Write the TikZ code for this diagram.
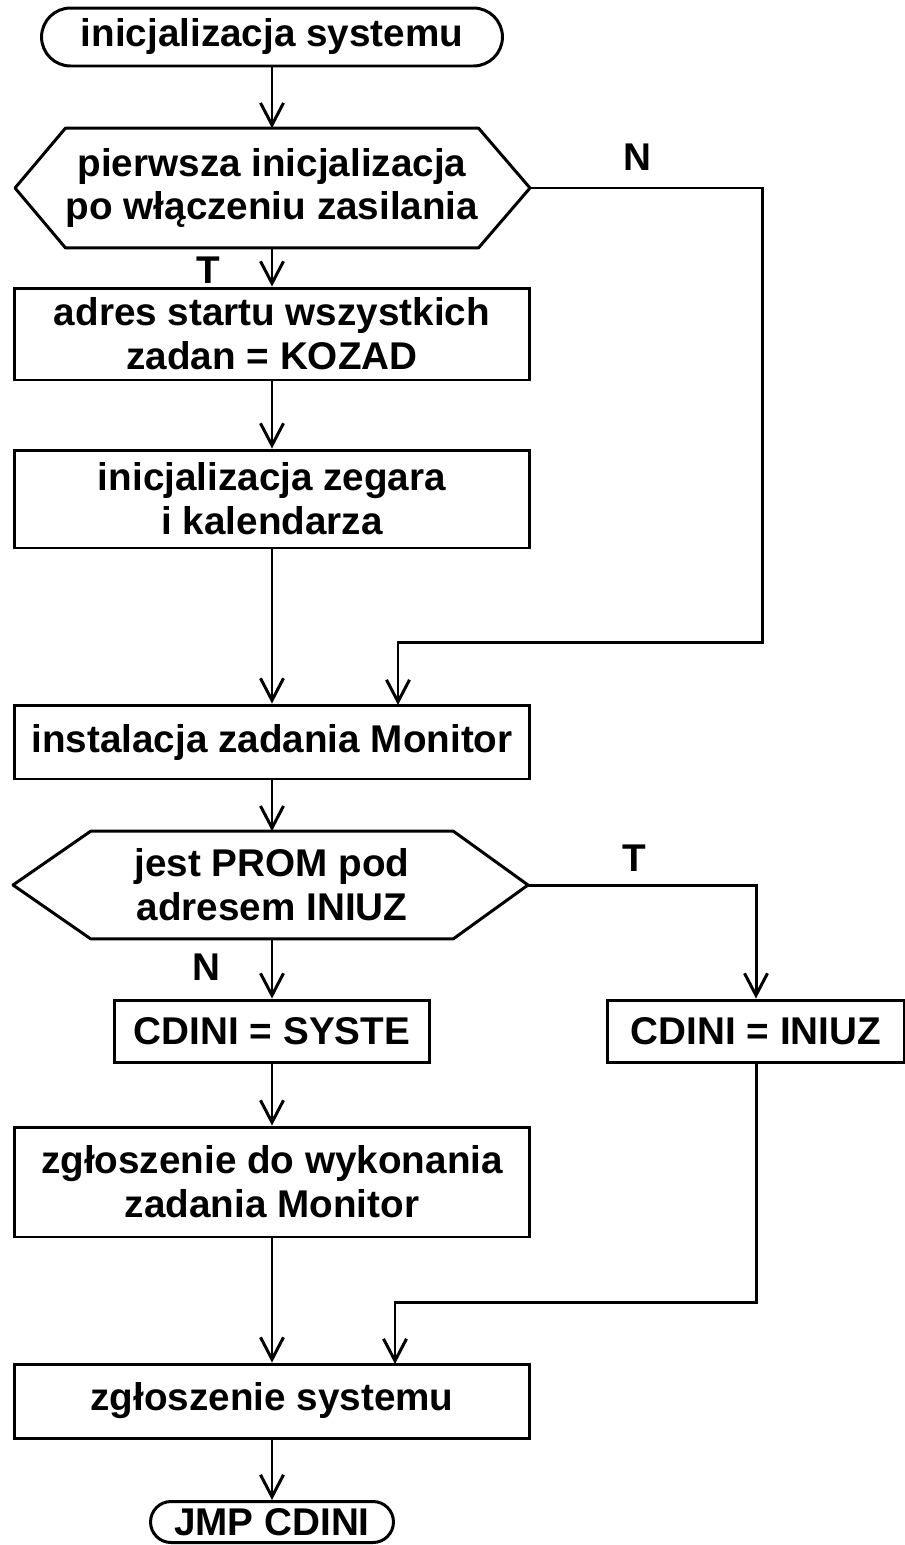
\documentclass[tikz,border=0pt]{standalone}
\usepackage{fontspec}
\newfontfamily\plotfont{Liberation Sans}
\usetikzlibrary{arrows.meta}

\tikzset{
  flow/.style={line width=1.7pt, -{Straight Barb[length=4.4mm,width=4.6mm]}},
  txt/.style={font=\plotfont\bfseries\fontsize{22}{25}\selectfont, align=center},
  box/.style={txt, draw, line width=1.7pt, minimum width=10.32cm},
  term/.style={txt, draw, line width=1.7pt, inner ysep=1pt},
  cond/.style={txt, inner sep=0pt},
}

\begin{document}
\begin{tikzpicture}[x=0.02cm, y=-0.02cm]
		\useasboundingbox (0,0) rectangle (905,1545);
		
		% start
		\node[term, minimum width=9.22cm, minimum height=1.16cm, rounded corners=0.58cm] (start) at (272,37) {inicjalizacja systemu};
		
		% pierwsza inicjalizacja?
		\node[cond, minimum width=7.92cm, minimum height=2.38cm] (d1) at (272,188) {pierwsza inicjalizacja\\po włączeniu zasilania};
		\coordinate (d1r) at (530,188);
		\coordinate (d1l) at (15,188);
		\draw[line width=1.7pt, line join=round] (d1.north west) -- (d1.north east) -- (d1r) -- (d1.south east) -- (d1.south west) -- (d1l) -- cycle;
		
		\node[box, minimum height=1.84cm] (b1) at (272,334) {adres startu wszystkich\\zadan = KOZAD};
		\node[box, minimum height=1.96cm] (b2) at (272,499) {inicjalizacja zegara\\i kalendarza};
		\node[box, minimum height=1.48cm] (b3) at (272,742) {instalacja zadania Monitor};
		
		% jest PROM?
		\node[cond, minimum width=7.24cm, minimum height=2.14cm] (d2) at (272,885) {jest PROM pod\\adresem INIUZ};
		\coordinate (d2r) at (528,885);
		\coordinate (d2l) at (13,885);
		\draw[line width=1.7pt, line join=round] (d2.north west) -- (d2.north east) -- (d2r) -- (d2.south east) -- (d2.south west) -- (d2l) -- cycle;
		
		\node[box, minimum width=6.3cm, minimum height=1.24cm] (b4) at (272,1031) {CDINI = SYSTE};
		\node[box, minimum width=5.96cm, minimum height=1.24cm] (b5) at (756,1031) {CDINI = INIUZ};
		\node[box, minimum height=2.2cm] (b6) at (272,1182) {zgłoszenie do wykonania\\zadania Monitor};
		\node[box, minimum height=1.48cm] (b7) at (272,1401) {zgłoszenie systemu};
		
		% stop
		\node[term, minimum width=4.86cm, minimum height=0.82cm, rounded corners=0.41cm] (stop) at (272,1522) {JMP CDINI};
		
		% labels
		\node[txt] (n1) at (637,157) {N};
		\node[txt] (t1) at (208,270) {T};
		\node[txt] (t2) at (634,858) {T};
		\node[txt] (n2) at (206,967) {N};
		
		% connectors
		\coordinate (k1) at (762,642);
		\coordinate (in3) at (398,705);
		\coordinate (k2) at (756,1302);
		\coordinate (in7) at (395,1364);
		
		\draw[flow] (start) -- (d1.north);
		\draw[flow] (d1.south) -- (b1);
		\draw[flow] (b1) -- (b2);
		\draw[flow] (b2) -- (b3);
		\draw[flow] (d1r) -| (k1) -| (in3);
		\draw[flow] (b3) -- (d2.north);
		\draw[flow] (d2.south) -- (b4);
		\draw[flow] (d2r) -| (b5);
		\draw[flow] (b4) -- (b6);
		\draw[flow] (b6) -- (b7);
		\draw[flow] (b5) -- (k2) -| (in7);
		\draw[flow] (b7) -- (stop);
		
	\end{tikzpicture}
\end{document}
